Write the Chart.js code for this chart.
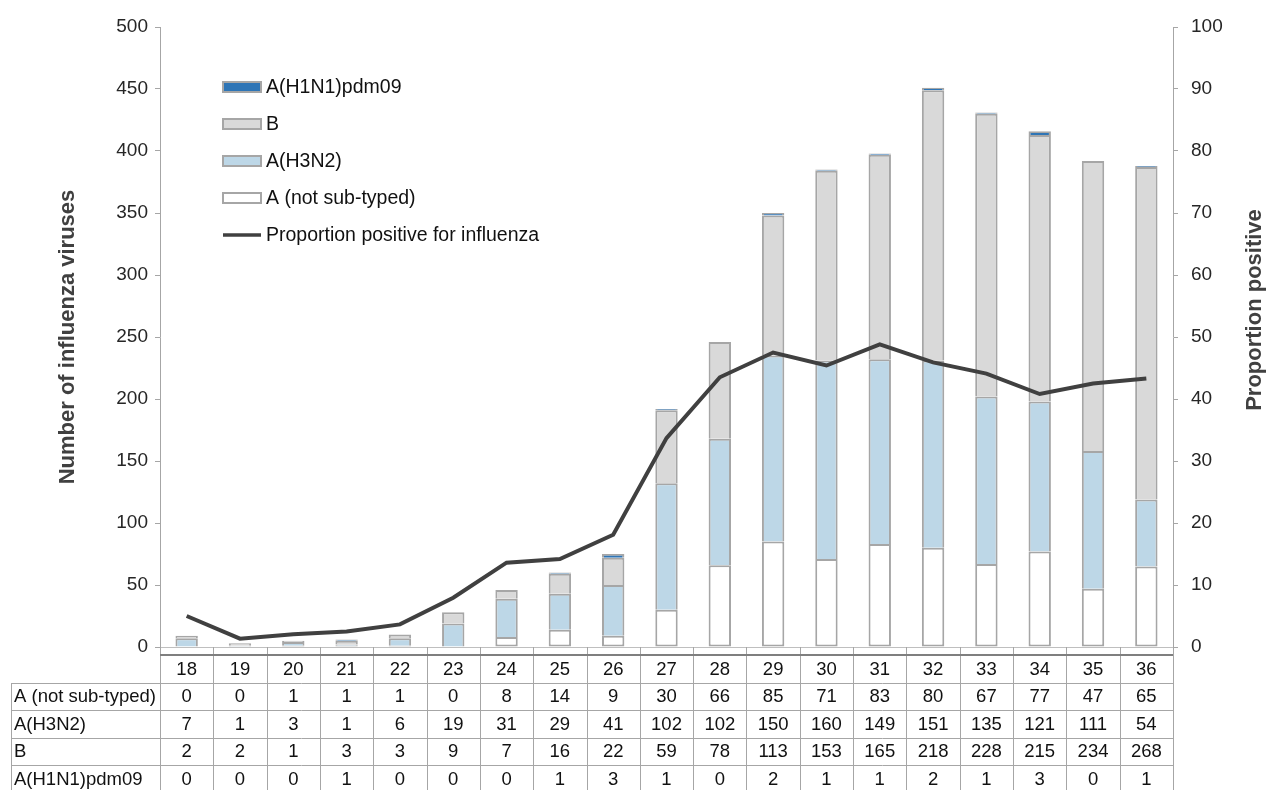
<!DOCTYPE html>
<html>
<head>
<meta charset="utf-8">
<title>Influenza viruses by week</title>
<script src="https://cdn.jsdelivr.net/npm/chart.js@4.4.0/dist/chart.umd.min.js"></script>
<style>
  html, body { margin: 0; padding: 0; background: #fff; }
  #wrap { width: 1267px; height: 790px; }
</style>
</head>
<body>
<div id="wrap"><canvas id="myChart" width="1267" height="790"></canvas></div>
<script>
// Data
const weeks = ['18', '19', '20', '21', '22', '23', '24', '25', '26', '27', '28', '29', '30', '31', '32', '33', '34', '35', '36'];
const notSubtyped = [0, 0, 1, 1, 1, 0, 8, 14, 9, 30, 66, 85, 71, 83, 80, 67, 77, 47, 65];
const h3n2 = [7, 1, 3, 1, 6, 19, 31, 29, 41, 102, 102, 150, 160, 149, 151, 135, 121, 111, 54];
const typeB = [2, 2, 1, 3, 3, 9, 7, 16, 22, 59, 78, 113, 153, 165, 218, 228, 215, 234, 268];
const h1n1 = [0, 0, 0, 1, 0, 0, 0, 1, 3, 1, 0, 2, 1, 1, 2, 1, 3, 0, 1];
const proportionPositive = [5.0, 1.35, 2.05, 2.5, 3.65, 7.95, 13.6, 14.2, 18.1, 33.7, 43.5, 47.5, 45.4, 48.8, 45.9, 44.1, 40.8, 42.5, 43.3];

const colors = {
  notSubtyped: '#ffffff',
  h3n2: '#bdd7e7',
  typeB: '#d9d9d9',
  h1n1: '#2e75b6',
  line: '#404040',
  border: '#a6a6a6'
};

const FONT = 'Arial, "Liberation Sans", sans-serif';

// table rows under the axis (same order as the reference)
const tableRows = [
  { label: 'A (not sub-typed)', values: notSubtyped },
  { label: 'A(H3N2)', values: h3n2 },
  { label: 'B', values: typeB },
  { label: 'A(H1N1)pdm09', values: h1n1 }
];

const legendItems = [
  { label: 'A(H1N1)pdm09', color: colors.h1n1 },
  { label: 'B', color: colors.typeB },
  { label: 'A(H3N2)', color: colors.h3n2 },
  { label: 'A (not sub-typed)', color: colors.notSubtyped },
  { label: 'Proportion positive for influenza', line: true }
];

const dataTablePlugin = {
  id: 'dataTable',
  afterDraw(chart) {
    const { ctx, chartArea, scales: { x } } = chart;
    const colW = x.getPixelForValue(1) - x.getPixelForValue(0);
    const left = chartArea.left;
    const right = chartArea.right;
    const base = chartArea.bottom;
    const headTop = base + 8;
    const rowH = 27.5;
    const labelLeft = 11;
    const bottom = headTop + rowH * (tableRows.length + 1);

    ctx.save();
    // column separators
    ctx.lineWidth = 1;
    ctx.strokeStyle = '#a6a6a6';
    for (let i = 0; i <= weeks.length; i++) {
      const xx = Math.round(left + i * colW) + 0.5;
      ctx.beginPath();
      ctx.moveTo(xx, base);
      ctx.lineTo(xx, bottom);
      ctx.stroke();
    }
    // row lines
    for (let r = 1; r <= tableRows.length + 1; r++) {
      const yy = Math.round(headTop + r * rowH) + 0.5;
      ctx.beginPath();
      ctx.moveTo(labelLeft, yy);
      ctx.lineTo(right, yy);
      ctx.stroke();
    }
    ctx.beginPath();
    ctx.moveTo(labelLeft + 0.5, Math.round(headTop + rowH));
    ctx.lineTo(labelLeft + 0.5, bottom);
    ctx.stroke();
    // header top line
    ctx.strokeStyle = '#7f7f7f';
    ctx.lineWidth = 2;
    ctx.beginPath();
    ctx.moveTo(left, headTop);
    ctx.lineTo(right, headTop);
    ctx.stroke();

    // text
    ctx.fillStyle = '#111';
    ctx.font = '18.5px ' + FONT;
    ctx.textBaseline = 'middle';
    ctx.textAlign = 'center';
    weeks.forEach((w, i) => {
      ctx.fillText(w, x.getPixelForValue(i), headTop + rowH / 2 + 1);
    });
    tableRows.forEach((row, r) => {
      const cy = headTop + rowH * (r + 1) + rowH / 2 + 1;
      ctx.textAlign = 'left';
      ctx.fillText(row.label, labelLeft + 3, cy);
      ctx.textAlign = 'center';
      row.values.forEach((v, i) => {
        ctx.fillText(String(v), x.getPixelForValue(i), cy);
      });
    });
    ctx.restore();
  }
};

const legendPlugin = {
  id: 'insideLegend',
  afterDraw(chart) {
    const { ctx } = chart;
    const bx = 223, bw = 38, bh = 10;
    let cy = 87;
    ctx.save();
    ctx.font = '19.5px ' + FONT;
    ctx.textBaseline = 'middle';
    ctx.textAlign = 'left';
    legendItems.forEach(item => {
      if (item.line) {
        ctx.strokeStyle = colors.line;
        ctx.lineWidth = 3.5;
        ctx.beginPath();
        ctx.moveTo(bx, cy);
        ctx.lineTo(bx + bw, cy);
        ctx.stroke();
      } else {
        ctx.fillStyle = item.color;
        ctx.fillRect(bx, cy - bh / 2, bw, bh);
        ctx.strokeStyle = colors.border;
        ctx.lineWidth = 2;
        ctx.strokeRect(bx, cy - bh / 2, bw, bh);
      }
      ctx.fillStyle = '#111';
      ctx.fillText(item.label, bx + bw + 5, cy + 1);
      cy += 37;
    });
    ctx.restore();
  }
};

const rightTitlePlugin = {
  id: 'rightTitle',
  afterDraw(chart) {
    const { ctx } = chart;
    ctx.save();
    ctx.translate(1255, 310);
    ctx.rotate(-Math.PI / 2);
    ctx.font = 'bold 22px ' + FONT;
    ctx.fillStyle = '#404040';
    ctx.textAlign = 'center';
    ctx.textBaseline = 'middle';
    ctx.fillText('Proportion positive', 0, 0);
    ctx.restore();
  }
};

// the segment below supplies the separator, so only the bottom series gets a bottom edge
function barSet(label, data, color, isBottom) {
  return {
    type: 'bar',
    label: label,
    data: data,
    backgroundColor: color,
    borderColor: colors.border,
    borderWidth: { top: 2, left: 2, right: 2, bottom: isBottom ? 2 : 0 },
    borderSkipped: false,
    yAxisID: 'y',
    stack: 'viruses',
    order: 1,
    categoryPercentage: 1,
    barPercentage: 0.42
  };
}

const ctx = document.getElementById('myChart').getContext('2d');
const myChart = new Chart(ctx, {
  data: {
    labels: weeks,
    datasets: [
      {
        type: 'line',
        label: 'Proportion positive for influenza',
        data: proportionPositive,
        borderColor: colors.line,
        backgroundColor: colors.line,
        borderWidth: 4,
        pointRadius: 0,
        tension: 0,
        fill: false,
        yAxisID: 'y1',
        order: 0
      },
      barSet('A (not sub-typed)', notSubtyped, colors.notSubtyped, true),
      barSet('A(H3N2)', h3n2, colors.h3n2, false),
      barSet('B', typeB, colors.typeB, false),
      barSet('A(H1N1)pdm09', h1n1, colors.h1n1, false)
    ]
  },
  options: {
    responsive: false,
    animation: false,
    devicePixelRatio: 1,
    layout: { padding: { top: 27, left: 0, right: 0, bottom: 0 } },
    plugins: {
      legend: { display: false },
      tooltip: { enabled: false }
    },
    scales: {
      x: {
        stacked: true,
        offset: true,
        grid: { display: false },
        border: { display: true, color: '#bfbfbf', width: 1 },
        ticks: { display: false },
        afterFit(scale) { scale.height = 143; }
      },
      y: {
        stacked: true,
        position: 'left',
        min: 0,
        max: 500,
        ticks: { stepSize: 50, padding: 7, color: '#262626', font: { family: FONT, size: 19 } },
        grid: { drawOnChartArea: false, drawTicks: true, tickLength: 5, color: '#a6a6a6' },
        border: { display: true, color: '#a6a6a6' },
        title: {
          display: true,
          text: 'Number of influenza viruses',
          color: '#404040',
          font: { family: FONT, size: 22, weight: 'bold' },
          padding: { top: 55, bottom: 0 }
        },
        afterFit(scale) { scale.width = 160; }
      },
      y1: {
        position: 'right',
        min: 0,
        max: 100,
        ticks: { stepSize: 10, padding: 13, color: '#262626', font: { family: FONT, size: 19 } },
        grid: { drawOnChartArea: false, drawTicks: true, tickLength: 5, color: '#a6a6a6' },
        border: { display: true, color: '#a6a6a6' },
        afterFit(scale) { scale.width = 94; }
      }
    }
  },
  plugins: [dataTablePlugin, legendPlugin, rightTitlePlugin]
});
</script>
</body>
</html>
